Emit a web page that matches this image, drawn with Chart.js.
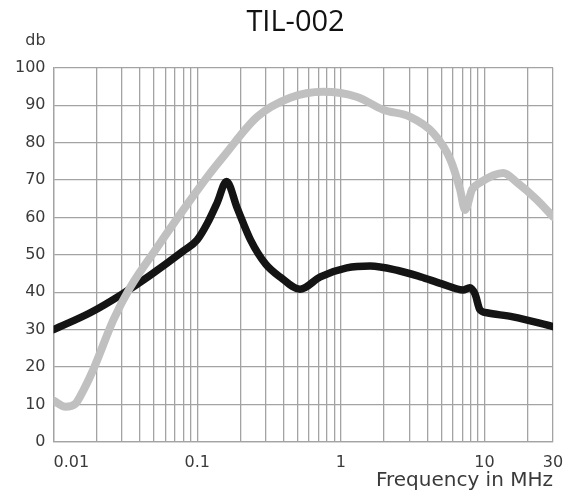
<!DOCTYPE html>
<html>
<head>
<meta charset="utf-8">
<script src="https://cdn.jsdelivr.net/npm/chart.js@4"></script>
<style>
  html, body { margin: 0; padding: 0; background: #fff; }
  #wrap { width: 569px; height: 496px; }
</style>
</head>
<body>
<div id="wrap"><canvas id="myChart"></canvas></div>
<script>
// frequency (MHz) and level (db)
const freqBlack = [0.01, 0.018, 0.03, 0.047, 0.08, 0.1, 0.118, 0.138, 0.16, 0.19, 0.235, 0.3, 0.38, 0.52, 0.72, 1.1, 1.6, 2.5, 3.6, 5.0, 7.1, 7.9, 8.6, 9.3, 10.4, 15.8, 30];
const dbBlack = [30, 34.5, 39.5, 44.5, 51, 54, 58.5, 64, 69.6, 62.5, 54, 47.5, 44, 40.8, 44.1, 46.5, 47, 45.8, 44.1, 42.3, 40.6, 41.2, 39.5, 35.3, 34.5, 33.4, 30.8];

const freqGray = [0.01, 0.0121, 0.0142, 0.0162, 0.019, 0.0261, 0.0343, 0.0529, 0.08, 0.118, 0.152, 0.262, 0.444, 0.755, 1.3, 1.97, 3.04, 4.39, 5.8, 6.77, 7.33, 8.19, 9.31, 13.5, 16.9, 23.2, 30];
const dbGray = [11, 9.4, 10.2, 13.9, 19.5, 32.6, 41.4, 52.1, 62, 70.9, 76.2, 86.9, 92, 93.6, 92.2, 88.8, 86.9, 82.6, 75.4, 67.4, 62, 67.4, 69.3, 71.9, 69.3, 64.7, 60.2];

// vertical grid lines and labelled ticks
const gridValues = [0.01, 0.02, 0.03, 0.04, 0.05, 0.06, 0.07, 0.08, 0.09,
                    0.1, 0.2, 0.3, 0.4, 0.5, 0.6, 0.7, 0.8, 0.9,
                    1, 2, 3, 4, 5, 6, 7, 8, 9,
                    10, 20, 30];
const tickValues = [0.01, 0.1, 1, 10, 30];
const tickLabels = ['0.01', '0.1', '1', '10', '30'];

function toPoints(xs, ys) {
  return xs.map((x, i) => ({ x: x, y: ys[i] }));
}

const gridColor = '#a3a3a3';
const tickFont = { family: 'DejaVu Sans', size: 16 };

const dbLabel = {
  id: 'dbLabel',
  afterDraw(chart) {
    const ctx = chart.ctx;
    const yScale = chart.scales.y;
    ctx.save();
    ctx.font = '16px "DejaVu Sans"';
    ctx.fillStyle = '#3a3a3a';
    ctx.textAlign = 'right';
    ctx.textBaseline = 'middle';
    ctx.fillText('db', yScale.right - 8, chart.chartArea.top - 27);
    ctx.restore();
  }
};

new Chart(document.getElementById('myChart'), {
  type: 'scatter',
  data: {
    datasets: [
      {
        data: toPoints(freqGray, dbGray),
        showLine: true,
        borderColor: '#c0c0c0',
        borderWidth: 8,
        pointRadius: 0,
        cubicInterpolationMode: 'monotone',
        borderCapStyle: 'round',
        borderJoinStyle: 'round'
      },
      {
        data: toPoints(freqBlack, dbBlack),
        showLine: true,
        borderColor: '#141414',
        borderWidth: 7.5,
        pointRadius: 0,
        cubicInterpolationMode: 'monotone',
        borderCapStyle: 'round',
        borderJoinStyle: 'round'
      }
    ]
  },
  options: {
    responsive: true,
    maintainAspectRatio: false,
    animation: false,
    layout: { padding: { left: 7, right: 0, top: 0, bottom: 3 } },
    plugins: {
      legend: { display: false },
      tooltip: { enabled: false },
      title: {
        display: true,
        text: '  TIL-002',
        color: '#111',
        font: { family: 'Open Sans', size: 29, weight: 'normal' },
        padding: { top: 5, bottom: 28 }
      }
    },
    scales: {
      x: {
        type: 'logarithmic',
        min: 0.01,
        max: 30,
        afterBuildTicks: (scale) => {
          scale.ticks = gridValues.map(v => ({ value: v }));
        },
        afterFit: (scale) => {
          scale.paddingRight = 16;
        },
        ticks: {
          autoSkip: false,
          maxRotation: 0,
          color: '#3a3a3a',
          font: tickFont,
          padding: 11,
          callback: (value) => {
            const i = tickValues.indexOf(value);
            if (i < 0) return '';
            return i === 0 ? '       ' + tickLabels[i] : tickLabels[i];
          }
        },
        grid: { color: gridColor, lineWidth: 1.3, drawTicks: false },
        border: { color: gridColor, width: 1.3 },
        title: {
          display: true,
          text: 'Frequency in MHz',
          align: 'end',
          color: '#3a3a3a',
          font: { family: 'DejaVu Sans', size: 20 },
          padding: { top: -14, bottom: 0 }
        }
      },
      y: {
        min: 0,
        max: 100,
        ticks: {
          stepSize: 10,
          color: '#3a3a3a',
          font: tickFont,
          padding: 8
        },
        grid: { color: gridColor, lineWidth: 1.3, drawTicks: false },
        border: { color: gridColor, width: 1.3 }
      }
    }
  },
  plugins: [dbLabel]
});
</script>
</body>
</html>
